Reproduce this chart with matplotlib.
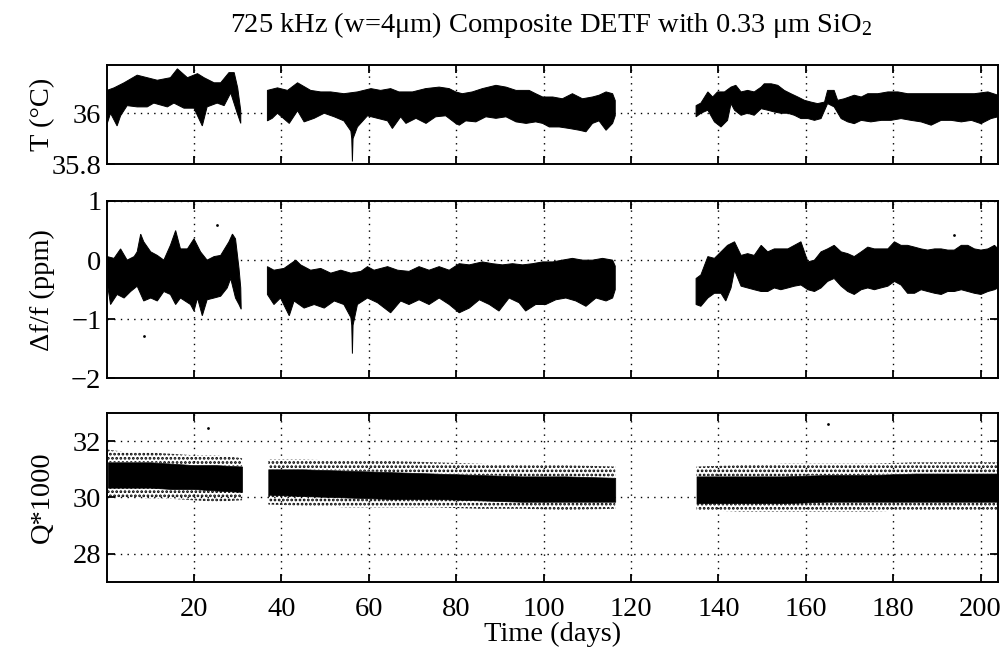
import numpy as np
import matplotlib
matplotlib.use("Agg")
import matplotlib.pyplot as plt

plt.rcParams["font.family"] = ["Liberation Serif", "DejaVu Serif"]
plt.rcParams["mathtext.fontset"] = "custom"
plt.rcParams["mathtext.rm"] = "Liberation Serif"
plt.rcParams["mathtext.it"] = "Liberation Serif:italic"
plt.rcParams["hatch.linewidth"] = 1.3

# ---------------- temperature envelope (deg C), three recording runs ----------------
t1_hi_days = [0.1, 1.7, 4.0, 7.0, 9.3, 11.6, 14.6, 16.2, 18.5, 20.8, 22.3, 24.6, 26.1, 28.0, 29.2, 30.0, 30.7]
t1_hi = [36.09, 36.10, 36.12, 36.15, 36.14, 36.13, 36.14, 36.175, 36.14, 36.156, 36.14, 36.12, 36.12, 36.16, 36.16, 36.10, 36.01]
t1_lo_days = [0.15, 0.9, 2.4, 3.2, 4.7, 7.0, 9.3, 10.8, 13.9, 15.4, 17.7, 20.0, 21.9, 23.0, 25.3, 26.9, 28.4, 29.9, 30.7]
t1_lo = [35.96, 36.00, 35.95, 35.99, 36.03, 36.025, 36.025, 36.04, 36.025, 36.04, 36.02, 36.02, 35.95, 36.025, 36.04, 36.03, 36.08, 36.00, 35.96]

t2_hi_days = [36.8, 39.1, 41.4, 43.7, 46.7, 49.0, 51.3, 54.3, 57.4, 60.5, 62.7, 65.0,
              66.9, 70.0, 73.0, 76.1, 78.4, 79.9, 81.4, 83.7, 86.0, 89.1, 91.4, 93.7, 96.7, 98.2,
              99.8, 102.1, 104.3, 106.6, 108.9, 111.2, 112.7, 114.3, 115.8, 116.4]
t2_hi = [36.09, 36.10, 36.09, 36.12, 36.09, 36.084, 36.084, 36.077, 36.084, 36.097, 36.09, 36.097,
         36.084, 36.084, 36.097, 36.103, 36.097, 36.084, 36.077, 36.084, 36.097, 36.11, 36.103, 36.09, 36.09, 36.077,
         36.064, 36.064, 36.057, 36.077, 36.057, 36.064, 36.071, 36.084, 36.077, 36.05]
t2_lo_days = [36.8, 37.9, 39.1, 41.8, 43.7, 45.2, 47.5, 49.8, 52.1, 54.3, 55.9, 56.1, 56.25, 56.4, 57.4, 59.7, 62.0, 64.3, 65.4, 67.3,
              68.5, 70.8, 73.1, 75.3, 77.6, 79.9, 80.7, 82.2, 84.5, 86.8, 89.1, 91.4, 93.7, 96.0, 98.2,
              99.8, 101.3, 103.6, 105.9, 108.2, 109.7, 111.2, 112.7, 114.3, 115.8, 116.4]
t2_lo = [35.97, 35.98, 36.00, 35.96, 36.01, 35.966, 35.98, 36.00, 35.986, 35.97, 35.93, 35.90, 35.81, 35.90, 35.946, 35.99, 35.98, 35.97, 35.94, 35.986,
         35.96, 35.98, 35.96, 35.986, 35.99, 35.96, 35.953, 35.97, 35.966, 35.986, 35.98, 35.986, 35.966, 35.96, 35.966,
         35.96, 35.946, 35.946, 35.94, 35.933, 35.927, 35.96, 35.97, 35.933, 35.96, 35.99]

t3_hi_days = [134.9, 136.0, 137.6, 138.7, 139.8, 141.4, 142.9, 144.0, 145.2, 146.7, 148.2, 149.8, 150.5, 152.1,
              153.6, 155.1, 156.6, 158.2, 159.7, 161.2, 162.7, 164.3, 165.0, 166.5, 167.3, 168.8, 171.1, 172.7,
              174.2, 176.5, 178.8, 181.1, 183.3, 186.4, 189.5, 192.5, 195.6, 198.6, 201.7, 204.0]
t3_hi = [36.03, 36.04, 36.084, 36.064, 36.084, 36.084, 36.103, 36.11, 36.084, 36.09, 36.084, 36.103, 36.116, 36.116,
         36.11, 36.09, 36.077, 36.064, 36.051, 36.044, 36.038, 36.044, 36.09, 36.09, 36.051, 36.057, 36.071, 36.064,
         36.077, 36.077, 36.084, 36.084, 36.077, 36.077, 36.077, 36.077, 36.077, 36.077, 36.084, 36.071]
t3_lo_days = [134.9, 136.0, 137.6, 139.1, 140.6, 142.1, 142.9, 143.7, 145.2, 146.7, 148.2, 149.8, 151.3, 152.8,
              154.3, 155.9, 157.4, 158.9, 160.5, 162.0, 163.5, 165.0, 166.5, 168.1, 169.6, 171.1, 172.7, 174.9,
              177.3, 179.5, 181.8, 184.1, 186.4, 188.7, 191.0, 193.3, 195.6, 197.9, 200.1, 202.4, 204.0]
t3_lo = [35.986, 36.0, 36.012, 35.966, 35.946, 35.972, 36.038, 36.012, 35.992, 36.0, 35.992, 36.018, 36.012, 36.005,
         36.0, 36.0, 35.992, 35.979, 35.979, 35.972, 35.979, 36.038, 36.025, 35.979, 35.966, 35.959, 35.972, 35.966,
         35.972, 35.972, 35.979, 35.972, 35.966, 35.953, 35.972, 35.972, 35.966, 35.972, 35.959, 35.979, 35.986]

# ---------------- fractional frequency shift envelope (ppm) ----------------
f1_hi_days = [0.15, 1.7, 3.2, 4.7, 6.3, 7.0, 7.8, 8.5, 10.1, 11.6, 13.1, 14.6, 15.8, 16.9, 18.5, 20.0, 21.5, 23.0,
              24.6, 26.1, 28.0, 28.8, 29.5, 30.3, 30.7]
f1_hi = [0.06, 0.03, 0.19, 0.0, 0.06, 0.14, 0.44, 0.31, 0.14, 0.08, 0.0, 0.25, 0.5, 0.19, 0.19, 0.36, 0.14, 0.0,
         0.06, 0.08, 0.31, 0.44, 0.36, -0.14, -0.47]
f1_lo_days = [0.15, 0.9, 2.4, 4.0, 5.5, 7.0, 8.5, 10.1, 11.6, 13.1, 14.6, 15.8, 16.9, 19.2, 20.0, 20.8, 21.9, 23.0,
              24.6, 26.1, 27.6, 28.4, 29.5, 30.3, 30.8]
f1_lo = [-0.39, -0.75, -0.58, -0.64, -0.53, -0.44, -0.69, -0.64, -0.69, -0.53, -0.58, -0.75, -0.64, -0.75, -0.86, -0.64, -0.94, -0.67,
         -0.64, -0.61, -0.47, -0.31, -0.64, -0.75, -0.83]

f2_hi_days = [36.8, 38.3, 40.6, 43.3, 44.4, 46.7, 49.0, 51.3, 53.6, 55.9, 58.2, 59.7, 61.2, 64.3, 66.6,
              69.2, 71.5, 73.8, 76.1, 78.4, 80.7, 83.0, 86.0, 88.3, 90.6, 92.9, 95.2, 97.5, 99.8,
              102.1, 104.3, 106.6, 108.9, 111.2, 113.5, 115.8, 116.4]
f2_hi = [-0.11, -0.17, -0.14, 0.0, -0.08, -0.17, -0.14, -0.22, -0.17, -0.22, -0.19, -0.11, -0.17, -0.11, -0.17,
         -0.19, -0.11, -0.17, -0.11, -0.17, -0.06, -0.08, -0.03, -0.06, -0.08, -0.06, -0.08, -0.06, -0.03,
         -0.03, 0.0, 0.03, 0.0, 0.0, 0.03, 0.0, -0.1]
f2_lo_days = [36.8, 38.3, 39.8, 41.8, 42.9, 45.2, 47.5, 49.8, 52.1, 54.3, 55.9, 56.1, 56.25, 56.4, 57.4, 59.7, 62.0, 65.0, 67.3,
              69.2, 71.5, 73.8, 76.1, 78.4, 80.7, 83.0, 85.3, 87.6, 89.8, 92.1, 94.4, 95.9, 98.2,
              100.5, 102.8, 105.1, 107.4, 109.7, 112.0, 114.3, 115.8, 116.4]
f2_lo = [-0.58, -0.75, -0.64, -0.94, -0.69, -0.81, -0.75, -0.81, -0.69, -0.75, -0.97, -1.1, -1.58, -1.1, -0.75, -0.64, -0.72, -0.89, -0.69,
         -0.75, -0.67, -0.75, -0.64, -0.75, -0.89, -0.81, -0.67, -0.75, -0.86, -0.64, -0.72, -0.86, -0.75,
         -0.75, -0.67, -0.64, -0.69, -0.78, -0.64, -0.69, -0.64, -0.5]

f3_hi_days = [134.9, 136.0, 137.6, 139.1, 140.6, 142.1, 143.7, 145.2, 146.7, 148.2, 149.8, 151.3, 152.8, 154.3,
              155.9, 157.4, 158.9, 160.5, 162.0, 163.5, 165.0, 166.5, 168.1, 169.6, 171.1, 172.7, 174.2, 175.7,
              177.2, 178.8, 180.3, 181.8, 183.3, 184.9, 186.4, 187.9, 189.5, 191.0, 192.5, 194.0, 195.6, 197.1,
              198.6, 200.1, 201.7, 203.2, 204.0]
f3_hi = [-0.31, -0.25, 0.06, 0.03, 0.14, 0.25, 0.31, 0.08, 0.11, 0.08, 0.25, 0.14, 0.19, 0.19,
         0.19, 0.25, 0.31, -0.03, 0.0, 0.14, 0.19, 0.25, 0.14, 0.11, 0.06, 0.14, 0.22, 0.19,
         0.19, 0.19, 0.31, 0.25, 0.25, 0.22, 0.19, 0.17, 0.19, 0.19, 0.17, 0.17, 0.25, 0.25,
         0.19, 0.17, 0.19, 0.25, 0.19]
f3_lo_days = [134.9, 136.0, 137.6, 139.1, 140.6, 141.7, 142.9, 143.7, 145.2, 146.7, 148.2, 149.8, 151.3, 152.8,
              154.3, 155.9, 157.4, 158.9, 160.5, 162.0, 163.5, 165.0, 166.5, 168.1, 169.6, 171.1, 172.7, 174.2,
              175.7, 177.2, 178.8, 180.3, 181.8, 183.3, 184.9, 186.4, 187.9, 189.5, 191.0, 192.5, 194.0, 195.6,
              197.1, 198.6, 200.1, 201.7, 203.2, 204.0]
f3_lo = [-0.75, -0.78, -0.64, -0.56, -0.56, -0.69, -0.47, -0.17, -0.44, -0.47, -0.5, -0.53, -0.53, -0.47,
         -0.5, -0.47, -0.44, -0.42, -0.5, -0.53, -0.47, -0.36, -0.31, -0.44, -0.53, -0.58, -0.5, -0.47,
         -0.5, -0.47, -0.44, -0.36, -0.42, -0.56, -0.56, -0.5, -0.53, -0.56, -0.58, -0.53, -0.53, -0.5,
         -0.53, -0.56, -0.58, -0.53, -0.5, -0.47]

f_out_days = [8.5, 25.3, 194.0]
f_out = [-1.28, 0.59, 0.43]

# ---------------- quality factor band (Q / 1000) ----------------
q_days = [[0.3, 5, 10, 15, 20, 25, 31.0],
          [37.0, 45, 55, 65, 75, 85, 95, 105, 116.4],
          [135.0, 145, 155, 165, 175, 185, 195, 204]]
q_core_hi = [[31.25, 31.25, 31.25, 31.2, 31.15, 31.15, 31.1],
             [31.0, 31.0, 30.95, 30.9, 30.85, 30.8, 30.75, 30.75, 30.7],
             [30.75, 30.75, 30.75, 30.8, 30.8, 30.85, 30.85, 30.85]]
q_core_lo = [[30.35, 30.35, 30.35, 30.3, 30.3, 30.25, 30.2],
             [30.1, 30.05, 30.0, 29.95, 29.95, 29.9, 29.85, 29.85, 29.85],
             [29.8, 29.8, 29.8, 29.85, 29.85, 29.85, 29.85, 29.85]]
q_outer_hi = [[31.7, 31.6, 31.6, 31.55, 31.5, 31.5, 31.4],
              [31.35, 31.35, 31.3, 31.3, 31.25, 31.2, 31.15, 31.15, 31.1],
              [31.1, 31.15, 31.2, 31.2, 31.2, 31.25, 31.25, 31.25]]
q_outer_lo = [[30.0, 30.0, 29.95, 29.95, 29.9, 29.85, 29.9],
              [29.75, 29.7, 29.65, 29.65, 29.65, 29.6, 29.6, 29.55, 29.6],
              [29.55, 29.5, 29.5, 29.5, 29.5, 29.55, 29.55, 29.55]]
q_out_days = [23.2, 165.0]
q_out = [32.46, 32.6]

x_ticks = [20, 40, 60, 80, 100, 120, 140, 160, 180, 200]

FS = 20.5


def band(ax, d_hi, hi, d_lo, lo):
    xs = np.concatenate([d_hi, d_lo[::-1]])
    ys = np.concatenate([hi, lo[::-1]])
    ax.fill(xs, ys, color="black", lw=0.7, zorder=3)


fig = plt.figure(figsize=(10.08, 6.54), dpi=100)
W = 0.8839
L = 0.1062
ax1 = fig.add_axes([L, 0.7492, W, 0.1514])
ax2 = fig.add_axes([L, 0.4213, W, 0.2714])
ax3 = fig.add_axes([L, 0.1101, W, 0.2584])

for d_hi, hi, d_lo, lo in [(t1_hi_days, t1_hi, t1_lo_days, t1_lo),
                           (t2_hi_days, t2_hi, t2_lo_days, t2_lo),
                           (t3_hi_days, t3_hi, t3_lo_days, t3_lo)]:
    band(ax1, np.array(d_hi), np.array(hi), np.array(d_lo), np.array(lo))

for d_hi, hi, d_lo, lo in [(f1_hi_days, f1_hi, f1_lo_days, f1_lo),
                           (f2_hi_days, f2_hi, f2_lo_days, f2_lo),
                           (f3_hi_days, f3_hi, f3_lo_days, f3_lo)]:
    band(ax2, np.array(d_hi), np.array(hi), np.array(d_lo), np.array(lo))
ax2.scatter(f_out_days, f_out, s=4, color="black", zorder=3, lw=0)

for d, chi, clo, ohi, olo in zip(q_days, q_core_hi, q_core_lo, q_outer_hi, q_outer_lo):
    ax3.fill_between(d, clo, chi, color="black", lw=0.5, zorder=3)
    ax3.fill_between(d, chi, ohi, facecolor="none", edgecolor="black", hatch="....", lw=0, zorder=3)
    ax3.fill_between(d, olo, clo, facecolor="none", edgecolor="black", hatch="....", lw=0, zorder=3)
ax3.scatter(q_out_days, q_out, s=4, color="black", zorder=3, lw=0)

ax1.set_ylim(35.8, 36.19)
ax1.set_yticks([35.8, 36.0])
ax1.set_yticklabels(["35.8", "36"])
ax2.set_ylim(-2, 1)
ax2.set_yticks([-2, -1, 0, 1])
ax2.set_yticklabels(["\u22122", "\u22121", "0", "1"])
ax3.set_ylim(27, 33)
ax3.set_yticks([28, 30, 32])

for ax in (ax1, ax2, ax3):
    ax.set_xlim(0.1, 204)
    ax.set_xticks(x_ticks)
    ax.grid(True, color="black", linestyle=(0, (1, 3.8)), linewidth=1.0)
    ax.set_axisbelow(True)
    ax.tick_params(direction="in", length=5.5, width=1.3, top=True, right=True,
                   labelsize=FS)
    ax.tick_params(axis="x", pad=10.5)
    ax.tick_params(axis="y", pad=4)
    for s in ax.spines.values():
        s.set_linewidth(1.4)
        s.set_zorder(5)
for ax in (ax1, ax2):
    ax.set_xticklabels([])

ax1.set_ylabel("T (\u00b0C)", fontsize=FS)
ax2.set_ylabel("\u0394f/f (ppm)", fontsize=FS)
ax3.set_ylabel("Q*1000", fontsize=FS)
for ax in (ax1, ax2, ax3):
    ax.yaxis.set_label_coords(-0.058, 0.5)
ax3.set_xlabel("Time (days)", fontsize=FS, labelpad=0)

fig.text(0.547, 0.951, "725 kHz (w=4\u03bcm) Composite DETF with 0.33 \u03bcm SiO$_2$",
         ha="center", va="baseline", fontsize=FS)

fig.savefig("out.png", dpi=100)
